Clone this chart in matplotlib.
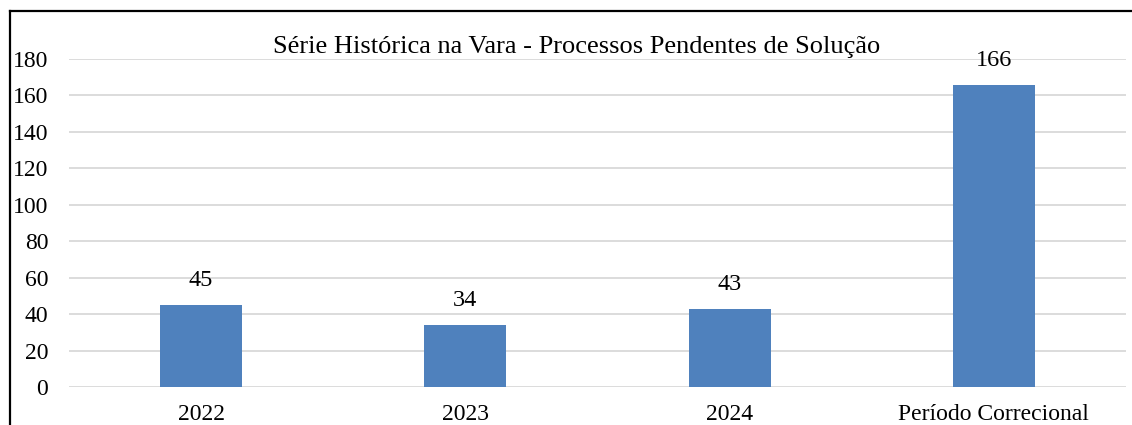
import matplotlib
matplotlib.use("Agg")
import matplotlib.pyplot as plt
from matplotlib.lines import Line2D

categories = ["2022", "2023", "2024", "Período Correcional"]
values = [45, 34, 43, 166]
yticks = [0, 20, 40, 60, 80, 100, 120, 140, 160, 180]
title = "Série Histórica na Vara - Processos Pendentes de Solução"

plt.rcParams['font.family'] = ['Liberation Serif', 'DejaVu Serif']

W, H = 1132, 425
fig = plt.figure(figsize=(W/100, H/100), dpi=100)
ax = fig.add_axes([69/W, 1 - 387/H, (1126-69)/W, (387-59)/H])

x = list(range(len(categories)))
bars = ax.bar(x, values, width=0.31, color="#4f81bd", zorder=3)
ax.set_xlim(-0.5, len(categories) - 0.5)
ax.set_ylim(0, 180)
ax.set_yticks(yticks)
ax.set_xticks(x)
ax.set_xticklabels(categories, fontsize=17)
ax.tick_params(axis='y', labelsize=17, length=0, pad=15)
ax.tick_params(axis='x', length=0, pad=12)
ax.grid(axis='y', color="#d9d9d9", linewidth=1.3, zorder=0)
for s in ax.spines.values():
    s.set_visible(False)

for xi, v in zip(x, values):
    ax.annotate(str(v), (xi, v), xytext=(0, 10), textcoords="offset points",
                ha="center", va="bottom", fontsize=17.5)

fig.text(577/W, 1 - 47/H, title, ha="center", va="center", fontsize=19)

# outer border (left and top)
fig.add_artist(Line2D([9.5/W, 9.5/W], [0, 1 - 10.5/H], color="black", linewidth=1.6, transform=fig.transFigure))
fig.add_artist(Line2D([9.5/W, 1], [1 - 10.5/H, 1 - 10.5/H], color="black", linewidth=1.6, transform=fig.transFigure))

fig.savefig("out.png", dpi=100)
